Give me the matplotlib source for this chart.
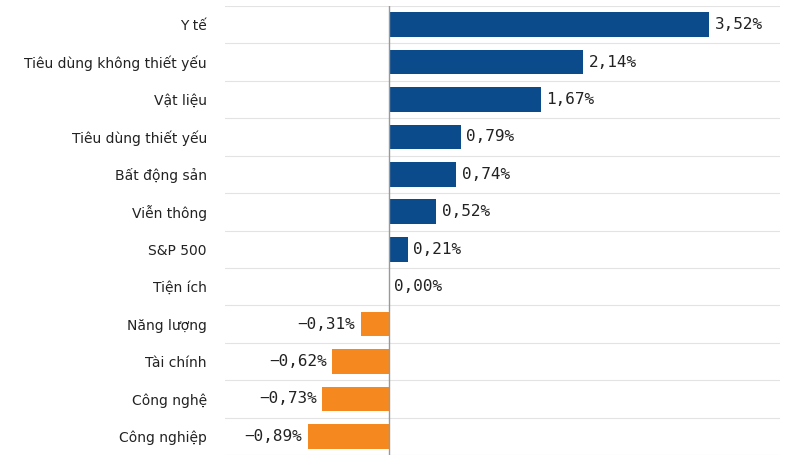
import matplotlib.pyplot as plt
import numpy as np

sectors = ["Y tế", "Tiêu dùng không thiết yếu", "Vật liệu", "Tiêu dùng thiết yếu",
           "Bất động sản", "Viễn thông", "S&P 500", "Tiện ích", "Năng lượng",
           "Tài chính", "Công nghệ", "Công nghiệp"]
changes = [3.52, 2.14, 1.67, 0.79, 0.74, 0.52, 0.21, 0.00, -0.31, -0.62, -0.73, -0.89]

blue = "#0b4a8b"
orange = "#f5891f"

fig = plt.figure(figsize=(8.04, 4.55), dpi=100)
ax = fig.add_axes([225/804, 0, 555/804, 449/455])

y = np.arange(len(sectors))
colors = [blue if v >= 0 else orange for v in changes]
ax.barh(y, changes, height=0.66, color=colors, zorder=2)

for yi, v in zip(y, changes):
    txt = ("%.2f%%" % abs(v)).replace(".", ",")
    if v < 0:
        ax.text(v - 0.06, yi, "\u2212" + txt, ha="right", va="center",
                family="DejaVu Sans Mono", fontsize=11.5, color="#222222")
    else:
        ax.text(v + 0.06, yi, txt, ha="left", va="center",
                family="DejaVu Sans Mono", fontsize=11.5, color="#222222")

ax.set_xlim(-1.80, 4.30)
ax.set_ylim(len(sectors) - 0.5, -0.5)
ax.axvline(0, color="#999999", lw=1, zorder=3)
for g in np.arange(-0.5, len(sectors), 1.0):
    ax.axhline(g, color="#e3e3e3", lw=0.8, zorder=1)

ax.set_yticks(y)
ax.set_yticklabels(sectors, fontsize=10, color="#222222")
ax.tick_params(axis="y", length=0, pad=13)
ax.set_xticks([])
for s in ax.spines.values():
    s.set_visible(False)

fig.savefig("out.png", dpi=100)
